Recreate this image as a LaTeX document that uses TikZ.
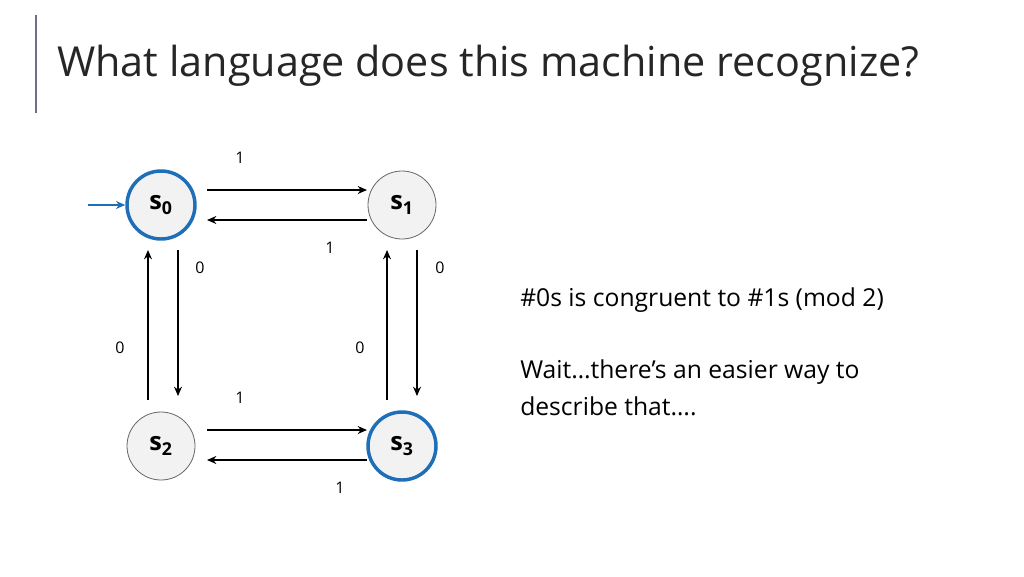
\documentclass[tikz,border=0pt]{standalone}
\usepackage{fontspec}
\setmainfont{Open Sans}
\usetikzlibrary{arrows.meta}
\definecolor{accent}{HTML}{1F6FB8}
\definecolor{barc}{HTML}{6E6E8C}
\definecolor{sfill}{HTML}{F2F2F2}
\tikzset{
  state/.style={circle,minimum size=51pt,inner sep=0pt,draw=black!60,line width=0.6pt,fill=sfill,font=\fontsize{19}{22}\selectfont\bfseries},
  acc/.style={state,draw=accent,line width=2.6pt},
  tr/.style={-{Stealth[length=7pt,width=6pt]},line width=1pt},
  lbl/.style={font=\fontsize{12}{14}\selectfont},
  txt/.style={anchor=west,font=\fontsize{18.5}{22}\selectfont,inner sep=0pt}
}
\begin{document}
\begin{tikzpicture}[x=0.75pt,y=-0.75pt]
\useasboundingbox[fill=white] (0,0) rectangle (1024,576);
\draw[barc,line width=1.2pt] (36,15) -- (36,113);
\node[anchor=base west,inner sep=0pt,font=\fontsize{31}{36}\selectfont,text=black!85] (title) at (57,76) {What language does this machine recognize?};
\node[acc] (s0) at (161,205) {s$_{\mathbf 0}$};
\node[state] (s1) at (402,205) {s$_{\mathbf 1}$};
\node[state] (s2) at (161,446) {s$_{\mathbf 2}$};
\node[acc] (s3) at (402,446) {s$_{\mathbf 3}$};
\coordinate (st) at (88,205);
\coordinate (a0) at (207,190); \coordinate (a1) at (367,190);
\coordinate (b1) at (367,220); \coordinate (b0) at (207,220);
\coordinate (c0) at (207,430); \coordinate (c1) at (367,430);
\coordinate (d1) at (367,460); \coordinate (d0) at (207,460);
\coordinate (e0) at (148,400); \coordinate (e1) at (148,250);
\coordinate (f0) at (178,250); \coordinate (f1) at (178,396);
\coordinate (g0) at (387,400); \coordinate (g1) at (387,250);
\coordinate (h0) at (417,250); \coordinate (h1) at (417,396);
\draw[tr,accent] (st) -- (s0.west);
\draw[tr] (a0) -- (a1);
\draw[tr] (b1) -- (b0);
\draw[tr] (c0) -- (c1);
\draw[tr] (d1) -- (d0);
\draw[tr] (e0) -- (e1);
\draw[tr] (f0) -- (f1);
\draw[tr] (g0) -- (g1);
\draw[tr] (h0) -- (h1);
\node[lbl] (l1) at (240,158) {1};
\node[lbl] (l2) at (330,248) {1};
\node[lbl] (l3) at (200,268) {0};
\node[lbl] (l4) at (120,348) {0};
\node[lbl] (l5) at (440,268) {0};
\node[lbl] (l6) at (360,348) {0};
\node[lbl] (l7) at (240,398) {1};
\node[lbl] (l8) at (340,488) {1};
\node[txt] (t1) at (520,300) {\#0s is congruent to \#1s (mod 2)};
\node[txt] (t2) at (520,372) {Wait…there’s an easier way to};
\node[txt] (t3) at (520,406) {describe that….};
\end{tikzpicture}
\end{document}
